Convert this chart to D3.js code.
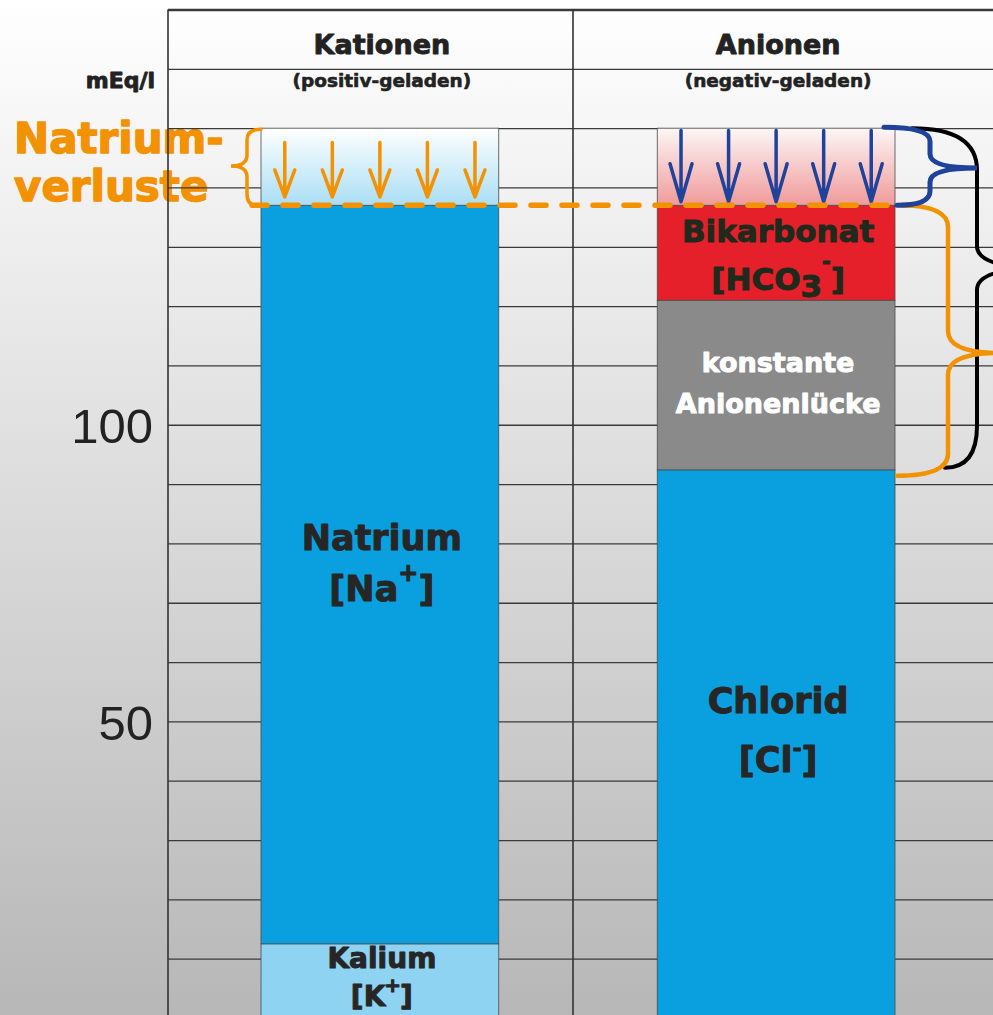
<!DOCTYPE html>
<html>
<head>
<meta charset="utf-8">
<script src="https://cdn.jsdelivr.net/npm/d3@7"></script>
<style>
  body { margin: 0; }
  svg { display: block; }
</style>
</head>
<body>
<div id="chart"></div>
<script>
// columns of the chart
const categories = ["Kationen", "Anionen"];
const subtitles = ["(positiv-geladen)", "(negativ-geladen)"];

// stacked segments, bottom to top (mEq/l)
const cationNames = ["Kalium", "Natrium", "Natriumverluste"];
const cationValues = [12.5, 124.5, 13];
const anionNames = ["Chlorid", "Anionenlücke", "Bikarbonat", "Verluste"];
const anionValues = [92.4, 28.6, 16, 13];

// axis
const yTickLabels = [50, 100];
const gridMax = 170;
const gridStep = 10;

const W = 993, H = 1015;
const BOLD = "'DejaVu Sans', sans-serif";
const ORANGE = "#f39200";
const NAVY = "#1f429a";

const svg = d3.select("#chart").append("svg")
  .attr("width", W).attr("height", H);

const defs = svg.append("defs");
function vGradient(id, c0, c1) {
  const g = defs.append("linearGradient").attr("id", id)
    .attr("x1", 0).attr("y1", 0).attr("x2", 0).attr("y2", 1);
  g.append("stop").attr("offset", "0%").attr("stop-color", c0);
  g.append("stop").attr("offset", "100%").attr("stop-color", c1);
}
vGradient("bg", "#ffffff", "#b7b7b7");
vGradient("lossBlue", "#ffffff", "#a9def5");
vGradient("lossRed", "#fdf6f6", "#f09a9a");

// makes DejaVu bold look a bit heavier, like the original
function heavy(sel, color, w) {
  return sel.attr("stroke", color).attr("stroke-width", w).attr("stroke-linejoin", "round");
}

// background
svg.append("rect").attr("width", W).attr("height", H).attr("fill", "url(#bg)");

// scales
const y = d3.scaleLinear().domain([0, gridMax]).range([1018, 9.5]);
const xCol = d3.scaleBand().domain(categories).range([168, 978]);
const xBar = d3.scaleBand().domain(categories).range([261, 895])
  .paddingInner(0.4).paddingOuter(0);

// "Natrium-verluste" side label (behind the grid)
const side = svg.append("g")
  .attr("font-family", BOLD).attr("font-weight", "bold")
  .attr("font-size", 42).attr("fill", ORANGE);
heavy(side, ORANGE, 1.4);
side.append("text").attr("x", 14).attr("y", 153).text("Natrium-");
side.append("text").attr("x", 14).attr("y", 201).text("verluste");

// horizontal grid
const gridVals = d3.range(0, gridMax + 1, gridStep);
svg.append("g")
  .attr("transform", `translate(${xCol.range()[0]},0)`)
  .call(d3.axisLeft(y).tickValues(gridVals).tickSize(-(W - 168)).tickFormat(""))
  .call(g => g.select(".domain").remove())
  .call(g => g.selectAll(".tick line")
    .attr("stroke", "#3a3a3a")
    .attr("stroke-width", d => d === gridMax ? 2.5 : 1.3));

// vertical column lines
svg.append("g").selectAll("line")
  .data(categories)
  .join("line")
  .attr("x1", d => xCol(d)).attr("x2", d => xCol(d))
  .attr("y1", y(gridMax)).attr("y2", H)
  .attr("stroke", "#333").attr("stroke-width", 1.6);

// y tick labels
svg.append("g")
  .attr("transform", `translate(${xCol.range()[0]},0)`)
  .call(d3.axisLeft(y).tickValues(yTickLabels).tickSize(0).tickPadding(15))
  .call(g => g.select(".domain").remove())
  .call(g => g.selectAll("text")
    .attr("font-family", "'Liberation Sans', Arial, sans-serif")
    .attr("font-size", 49).attr("fill", "#222").attr("dy", "0.36em"));

// headers
const head = svg.append("g").attr("font-family", BOLD).attr("font-weight", "bold")
  .attr("fill", "#222").attr("text-anchor", "middle");
heavy(head, "#222", 0.9);
head.selectAll(".cat").data(categories).join("text")
  .attr("x", d => xBar(d) + xBar.bandwidth() / 2 + 2)
  .attr("y", 54).attr("font-size", 27).text(d => d);
head.selectAll(".sub").data(subtitles).join("text")
  .attr("x", (d, i) => xBar(categories[i]) + xBar.bandwidth() / 2 + 2)
  .attr("y", 87).attr("font-size", 18.5).attr("stroke-width", 0.6).text(d => d);
head.append("text").attr("x", 155).attr("y", 88).attr("text-anchor", "end")
  .attr("font-size", 22).text("mEq/l");

// stack segments
function stack(names, values) {
  const tops = d3.cumsum(values);
  return names.map((n, i) => ({ name: n, y0: tops[i] - values[i], y1: tops[i] }));
}
const cations = stack(cationNames, cationValues);
const anions = stack(anionNames, anionValues);

const fills = {
  "Kalium": "#8fd3f3",
  "Natrium": "#0aa0df",
  "Natriumverluste": "url(#lossBlue)",
  "Chlorid": "#0aa0df",
  "Anionenlücke": "#8a8a8a",
  "Bikarbonat": "#e5202a",
  "Verluste": "url(#lossRed)"
};

[[categories[0], cations], [categories[1], anions]].forEach(([cat, segs]) => {
  svg.append("g").selectAll("rect")
    .data(segs)
    .join("rect")
    .attr("x", xBar(cat))
    .attr("width", xBar.bandwidth())
    .attr("y", d => y(d.y1))
    .attr("height", d => y(d.y0) - y(d.y1))
    .attr("fill", d => fills[d.name])
    .attr("stroke", "#4a4a4a").attr("stroke-width", 0.8);
});

// segment labels
function mid(segs, name) {
  const s = segs.find(d => d.name === name);
  return y((s.y0 + s.y1) / 2);
}
function label(cat, yPos, parts, size, color) {
  const t = svg.append("text")
    .attr("x", xBar(cat) + xBar.bandwidth() / 2 + 2)
    .attr("y", yPos)
    .attr("text-anchor", "middle")
    .attr("font-family", BOLD).attr("font-weight", "bold")
    .attr("font-size", size).attr("fill", color);
  heavy(t, color, 1);
  parts.forEach(p => {
    const ts = t.append("tspan").text(p.t);
    if (p.dy) ts.attr("dy", p.dy);
    if (p.dx) ts.attr("dx", p.dx);
    if (p.size) ts.attr("font-size", p.size);
  });
  return t;
}
const dark = "#262626";
const kat = categories[0], ani = categories[1];

let m = mid(cations, "Natrium");
label(kat, m - 25, [{ t: "Natrium" }], 35, dark);
label(kat, m + 26, [{ t: "[Na" }, { t: "+", dy: -20, size: 24 }, { t: "]", dy: 20 }], 35, dark);

m = mid(cations, "Kalium");
label(kat, m - 13, [{ t: "Kalium" }], 28, dark);
label(kat, m + 25, [{ t: "[K" }, { t: "+", dy: -14, dx: -1, size: 20 }, { t: "]", dy: 14, dx: -1 }], 28, dark);

m = mid(anions, "Chlorid");
label(ani, m - 31, [{ t: "Chlorid" }], 35, dark);
label(ani, m + 28, [{ t: "[Cl" }, { t: "-", dy: -16, size: 22 }, { t: "]", dy: 16 }], 35, dark);

m = mid(anions, "Anionenlücke");
label(ani, m - 13, [{ t: "konstante" }], 27, "#ffffff");
label(ani, m + 28, [{ t: "Anionenlücke" }], 27, "#ffffff");

m = mid(anions, "Bikarbonat");
label(ani, m - 11, [{ t: "Bikarbonat" }], 31, "#1d2a1c");
label(ani, m + 37, [{ t: "[HCO" }, { t: "3", dy: 7 }, { t: "-", dy: -28, size: 21 }, { t: "]", dy: 21 }], 31, "#1d2a1c");

// arrows in the loss zones
const nArrows = d3.range(5);
function arrows(cat, from, to, color, headW, headL) {
  svg.append("g").selectAll("path")
    .data(nArrows)
    .join("path")
    .attr("d", i => {
      const x = xBar(cat) + (i + 0.5) * xBar.bandwidth() / 5;
      const y1 = y(from), y2 = y(to);
      return `M${x},${y1}L${x},${y2}M${x - headW},${y2 - headL}L${x},${y2}L${x + headW},${y2 - headL}`;
    })
    .attr("fill", "none").attr("stroke", color)
    .attr("stroke-width", 3.5).attr("stroke-linecap", "round").attr("stroke-linejoin", "round");
}
arrows(kat, 147.6, 138.4, ORANGE, 10, 27);
arrows(ani, 149.6, 137.6, NAVY, 11, 38);

// dashed sodium-loss line
const lossLevel = cations.find(d => d.name === "Natrium").y1;
svg.append("line")
  .attr("x1", 252).attr("x2", 917)
  .attr("y1", y(lossLevel)).attr("y2", y(lossLevel))
  .attr("stroke", ORANGE).attr("stroke-width", 5.5)
  .attr("stroke-dasharray", "15 16").attr("stroke-linecap", "round");

// curly braces
function brace(xEnd, yTop, yBot, xSpine, xTip, yTip, r, r2, xEndBot) {
  const xb = xEndBot === undefined ? xEnd : xEndBot;
  return `M${xEnd},${yTop}Q${xSpine},${yTop} ${xSpine},${yTop + r}` +
    `L${xSpine},${yTip - r2}Q${xSpine},${yTip} ${xTip},${yTip}` +
    `Q${xSpine},${yTip} ${xSpine},${yTip + r2}` +
    `L${xSpine},${yBot - r}Q${xSpine},${yBot} ${xb},${yBot}`;
}
const topLevel = d3.sum(cationValues);
const gapLevel = anions.find(d => d.name === "Anionenlücke").y0;
const braces = svg.append("g").attr("fill", "none").attr("stroke-linecap", "round");

braces.append("path")
  .attr("d", brace(912, y(topLevel), y(gapLevel) - 2, 977, 1045, 268, 42, 22, 945))
  .attr("stroke", "#000").attr("stroke-width", 4);
braces.append("path")
  .attr("d", brace(900, y(lossLevel), y(gapLevel) + 6, 948, 1000, 353, 22, 22, 897))
  .attr("stroke", ORANGE).attr("stroke-width", 4.5);
braces.append("path")
  .attr("d", brace(884, y(topLevel) - 1, y(lossLevel), 930, 977, 168, 14, 14, 897))
  .attr("stroke", NAVY).attr("stroke-width", 5);
braces.append("path")
  .attr("d", brace(261, y(topLevel) + 1, y(lossLevel), 247, 231, 166, 11, 11, 257))
  .attr("stroke", ORANGE).attr("stroke-width", 3.5);
</script>
</body>
</html>
